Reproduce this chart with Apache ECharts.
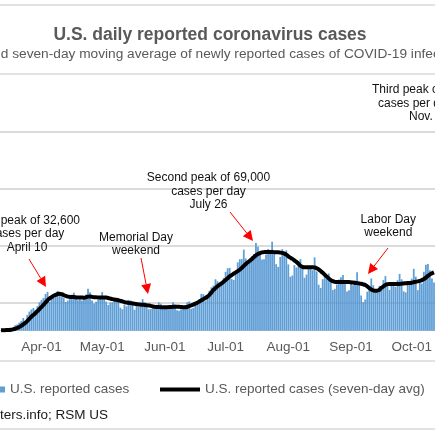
<!DOCTYPE html>
<html>
<head>
<meta charset="utf-8">
<script src="https://cdn.jsdelivr.net/npm/echarts@6/dist/echarts.min.js"></script>
<style>
html,body{margin:0;padding:0;background:#fff;}
#chart{width:435px;height:435px;}
</style>
</head>
<body>
<div id="chart"></div>
<script>
// ---- Data ----
// Daily reported cases, Mar 12 .. Oct 12, 2020
const marchCases = [400, 550, 650, 750, 900, 1800, 2900, 4800, 5400, 7100, 8500, 11200, 8800, 13900, 16800, 18700, 20000, 18400, 21600, 25000];
const aprilCases = [27100, 28800, 32400, 34200, 25300, 30600, 30900, 32800, 35100, 33800, 29900, 28900, 25300, 26600, 30100, 31700, 33500, 29100, 26900, 27500, 26500, 28500, 31900, 37000, 33900, 26500, 23900, 25500, 27300, 30300];
const mayCases = [34000, 29500, 25600, 22600, 24800, 24900, 29000, 28500, 26000, 20300, 18900, 22900, 21400, 27200, 26700, 24400, 18400, 22300, 21600, 22500, 27800, 25000, 22400, 18900, 19100, 19600, 20600, 22800, 24900, 23800, 19800];
const juneCases = [20900, 21900, 20300, 22000, 25000, 23000, 18000, 17600, 19000, 21000, 22400, 24900, 25800, 19300, 20000, 23700, 25500, 27800, 32400, 32200, 26100, 30200, 35200, 38200, 39800, 45300, 43500, 41200, 40900, 46500];
const julyCases = [51800, 55000, 55300, 45700, 44600, 50400, 60200, 62900, 63000, 71400, 63600, 59500, 62800, 65500, 67600, 77300, 74000, 66600, 62800, 62900, 67100, 72000, 70700, 78400, 67600, 58600, 56200, 64900, 71900, 69300, 70800];
const augustCases = [58400, 47500, 48600, 57800, 55700, 58100, 63000, 57200, 46600, 49400, 55500, 55900, 53300, 64600, 52100, 40500, 37700, 45400, 47100, 45900, 50400, 44300, 35800, 36800, 40700, 45000, 47000, 49000, 43700, 34500, 35600];
const septemberCases = [43200, 40000, 44200, 51500, 41600, 31000, 25100, 27500, 34400, 36000, 46000, 40000, 33900, 35400, 39400, 38700, 44600, 48100, 41700, 35900, 41000, 39600, 38600, 44500, 50000, 45300, 34700, 33800, 42400, 40400];
const octoberCases = [45800, 54500, 47600, 35700, 42200, 41500, 51900, 58100, 58800, 53300, 45900, 42500];

// Seven-day average, same days
const marchAvg = [300, 400, 500, 600, 700, 900, 1200, 1700, 2400, 3200, 4300, 5600, 6900, 8600, 10400, 12300, 13900, 15400, 17200, 19100];
const aprilAvg = [20900, 22700, 24800, 26800, 28400, 29500, 30900, 31600, 32300, 32600, 32100, 31400, 30600, 30000, 29800, 29600, 29600, 29400, 29200, 29300, 29200, 29100, 29400, 30000, 30200, 29800, 29500, 29400, 29300, 29200];
const mayAvg = [29200, 29300, 29200, 28800, 28300, 27800, 27400, 27200, 26800, 26300, 25800, 25200, 24800, 24500, 24300, 24000, 23700, 23500, 23200, 23000, 22800, 22700, 22500, 22200, 21900, 21400, 21000, 20900, 20800, 20700, 20700];
const juneAvg = [20700, 20700, 20800, 20900, 21000, 21100, 21200, 21100, 20900, 20700, 20600, 21000, 21600, 22300, 23000, 23800, 24700, 25700, 26700, 27800, 28800, 30000, 31600, 33600, 35900, 37500, 39100, 40400, 41600, 43100];
const julyAvg = [44600, 46200, 47800, 49000, 50200, 51400, 52500, 53700, 55300, 57100, 58800, 60300, 61600, 63200, 64800, 66400, 67600, 68400, 69000, 69200, 69400, 69300, 69400, 69300, 69200, 69000, 69000, 68800, 68500, 67900, 67000];
const augustAvg = [65500, 64300, 63200, 61900, 60600, 59000, 57200, 56200, 55800, 55800, 55800, 55800, 55800, 55600, 55000, 54000, 52500, 51000, 49300, 47600, 46000, 44600, 43600, 43000, 42800, 42800, 42800, 42800, 42800, 42800, 42800];
const septemberAvg = [42600, 42400, 42100, 41900, 41700, 41300, 40800, 40200, 39000, 37600, 36300, 35500, 35100, 35300, 36000, 37800, 39000, 40200, 41000, 41100, 41100, 41100, 41100, 41100, 41200, 41400, 41600, 41800, 42000, 42100];
const octoberAvg = [42300, 42700, 43100, 43400, 43900, 44600, 45500, 46800, 48300, 49600, 50500, 51300];

const monthNames = ['Mar', 'Apr', 'May', 'Jun', 'Jul', 'Aug', 'Sep', 'Oct'];
const monthFirstDay = [12, 1, 1, 1, 1, 1, 1, 1];
const tickLabels = ['Apr-01', 'May-01', 'Jun-01', 'Jul-01', 'Aug-01', 'Sep-01', 'Oct-01'];

const seriesNames = ['U.S. reported cases', 'U.S. reported cases (seven-day avg)'];

// ---- Build tables ----
const monthlyCases = [marchCases, aprilCases, mayCases, juneCases, julyCases, augustCases, septemberCases, octoberCases];
const monthlyAvg = [marchAvg, aprilAvg, mayAvg, juneAvg, julyAvg, augustAvg, septemberAvg, octoberAvg];
const categories = [];
monthlyCases.forEach((arr, m) => {
  arr.forEach((_, i) => {
    const d = monthFirstDay[m] + i;
    categories.push(monthNames[m] + '-' + String(d).padStart(2, '0'));
  });
});
const dailyCases = [].concat(...monthlyCases);
const avgCases = [].concat(...monthlyAvg);

const FONT = '"Liberation Sans", Arial, sans-serif';

function arrow(x1, y1, x2, y2) {
  const dx = x2 - x1, dy = y2 - y1, len = Math.sqrt(dx * dx + dy * dy);
  const ux = dx / len, uy = dy / len;
  const hl = 10, hw = 5;
  const bx = x2 - ux * hl, by = y2 - uy * hl;
  return [
    { type: 'line', shape: { x1: x1, y1: y1, x2: bx, y2: by }, style: { stroke: '#ff0000', lineWidth: 1 }, z: 100 },
    { type: 'polygon', shape: { points: [[x2, y2], [bx - uy * hw, by + ux * hw], [bx + uy * hw, by - ux * hw]] }, style: { fill: '#ff0000' }, z: 100 }
  ];
}
function note(x, y, text, align) {
  return { type: 'text', x: x, y: y, z: 100, style: { text: text, fill: '#111', font: '12px ' + FONT, align: align || 'center', verticalAlign: 'middle', lineHeight: 13.6 } };
}
function frameLine(y) {
  return { type: 'line', shape: { x1: 0, y1: y, x2: 435, y2: y }, style: { stroke: '#d9d9d9', lineWidth: 1.5 }, z: 50 };
}

const chart = echarts.init(document.getElementById('chart'), null, { renderer: 'canvas' });
chart.setOption({
  animation: false,
  backgroundColor: '#fff',
  grid: { left: -5.46, right: -4.8, top: 132, bottom: 104.3, containLabel: false },
  xAxis: {
    type: 'category',
    data: categories,
    boundaryGap: true,
    axisLine: { show: true, lineStyle: { color: '#d9d9d9', width: 1 } },
    axisTick: { show: false },
    axisLabel: {
      interval: (i, v) => tickLabels.indexOf(v) >= 0,
      color: '#595959', fontSize: 13.5, fontFamily: FONT, margin: 10, hideOverlap: false
    },
    splitLine: { show: false }
  },
  yAxis: {
    type: 'value',
    min: 0, max: 175000, interval: 25000,
    axisLine: { show: false }, axisTick: { show: false }, axisLabel: { show: false },
    splitLine: { show: true, lineStyle: { color: ['rgba(0,0,0,0)', '#cfcfcf'], width: 1.5 } }
  },
  legend: [
    { data: [seriesNames[0]], left: -1, top: 382.5, padding: 0, icon: 'rect', itemWidth: 6, itemHeight: 6, selectedMode: false,
      textStyle: { color: '#595959', fontSize: 13.5, fontFamily: FONT } },
    { data: [seriesNames[1]], left: 160, top: 382.5, padding: 0, icon: 'rect', itemWidth: 40, itemHeight: 4, selectedMode: false,
      textStyle: { color: '#595959', fontSize: 13.5, fontFamily: FONT } }
  ],
  series: [
    { name: seriesNames[0], type: 'bar', data: dailyCases, barCategoryGap: '12%',
      itemStyle: { color: '#4f93d2', opacity: 0.9 }, z: 2 },
    { name: seriesNames[1], type: 'line', data: avgCases, showSymbol: false, symbol: 'none', smooth: 0.3,
      lineStyle: { color: '#000', width: 4 }, itemStyle: { color: '#000' }, z: 5 }
  ],
  graphic: [
    frameLine(5), frameLine(74), frameLine(361), frameLine(429),
    { type: 'text', x: 210, y: 35.6, style: { text: 'U.S. daily reported coronavirus cases', fill: '#595959', font: 'bold 17.5px ' + FONT, align: 'center', verticalAlign: 'middle' } },
    { type: 'text', x: 210, y: 54.3, style: { text: 'Daily and seven-day moving average of newly reported cases of COVID-19 infections', fill: '#595959', font: '13.7px ' + FONT, align: 'center', verticalAlign: 'middle' } },
    { type: 'text', x: 108, y: 415.3, style: { text: 'Source: Worldometers.info; RSM US', fill: '#1a1a1a', font: '13.5px ' + FONT, align: 'right', verticalAlign: 'middle' } },
    note(27, 234, 'First peak of 32,600\ncases per day\nApril 10'),
    note(136, 244, 'Memorial Day\nweekend'),
    note(208.5, 191.2, 'Second peak of 69,000\ncases per day\nJuly 26'),
    note(388.3, 226.3, 'Labor Day\nweekend'),
    note(372, 89.8, 'Third peak of', 'left'),
    note(378, 103.4, 'cases per day', 'left'),
    note(409, 117, 'Nov.', 'left'),
    ...arrow(29, 259, 46, 287),
    ...arrow(141, 258, 148, 294),
    ...arrow(230, 212, 253, 241),
    ...arrow(388, 248, 368, 274)
  ]
});
</script>
</body>
</html>
